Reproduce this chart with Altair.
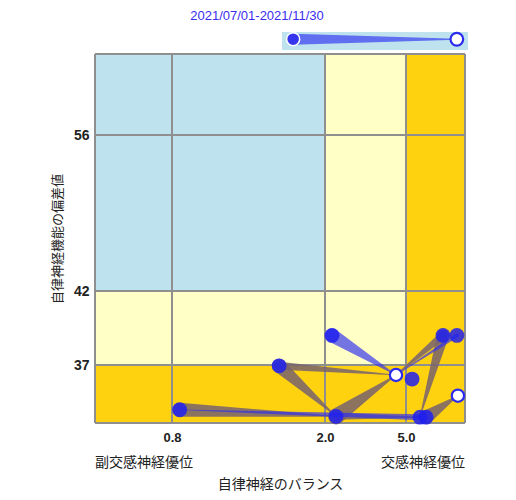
import altair as alt
import pandas as pd

# ---- data ----
title_text = "2021/07/01-2021/11/30"
x_ticks = [0.8, 2.0, 5.0]
y_ticks = [37, 42, 56]
X_MIN, X_MAX = 0.0, 8.0
Y_MIN, Y_MAX = 30.0, 62.0

pt_x = [0.86, 1.64, 2.41, 2.26, 4.63, 5.31, 6.88, 7.59, 5.71, 6.02, 7.64]
pt_y = [31.6, 36.9, 30.8, 39.0, 35.8, 35.3, 39.0, 39.0, 30.7, 30.7, 33.3]
pt_open = [False, False, False, False, True, False, False, False, False, False, True]

# segments: (from, to, weight, kind)
seg_from = [0, 1, 1, 2, 6, 6, 9, 2, 3, 8, 7]
seg_to = [2, 2, 4, 4, 4, 8, 10, 9, 4, 0, 4]
seg_w = [14, 14, 8, 16, 8, 12, 14, 7, 14, 6, 4]
seg_kind = ["brown", "brown", "brown", "brown", "brown", "brown", "brown", "brown",
            "blue", "blue", "blue"]

left_label = "副交感神経優位"
right_label = "交感神経優位"
x_title = "自律神経のバランス"
y_title = "自律神経機能の偏差値"

# ---- frames ----
W, H = 370, 369
xs = alt.Scale(domain=[X_MIN, 0.8, 2.0, 5.0, X_MAX], range=[0, 77, 230, 311, W],
               nice=False, zero=False)
ys = alt.Scale(domain=[Y_MIN, 37, 42, 56, Y_MAX], range=[H, 311, 237, 81, 0],
               nice=False, zero=False)

LBLUE, LYELLOW, GOLD = "#bee3ee", "#ffffc6", "#ffd20f"
bg = pd.DataFrame([
    dict(x=X_MIN, x2=2.0, y=42, y2=Y_MAX, c=LBLUE),
    dict(x=2.0, x2=5.0, y=42, y2=Y_MAX, c=LYELLOW),
    dict(x=X_MIN, x2=5.0, y=37, y2=42, c=LYELLOW),
    dict(x=5.0, x2=X_MAX, y=Y_MIN, y2=Y_MAX, c=GOLD),
    dict(x=X_MIN, x2=5.0, y=Y_MIN, y2=37, c=GOLD),
])

points = pd.DataFrame({"x": pt_x, "y": pt_y, "open": pt_open})

rows = []
for i, (a, b, w, k) in enumerate(zip(seg_from, seg_to, seg_w, seg_kind)):
    rows.append(dict(seg=i, step=0, x=pt_x[a], y=pt_y[a], w=w, kind=k))
    rows.append(dict(seg=i, step=1, x=pt_x[b], y=pt_y[b], w=0.6, kind=k))
trails = pd.DataFrame(rows)

xaxis = alt.Axis(values=x_ticks, format=".1f", ticks=False, domain=False, grid=False,
                 labelFontSize=13, labelFontWeight="bold", labelColor="#222",
                 labelFont="Liberation Sans",
                 labelPadding=8, title=x_title, titleFontSize=14,
                 titleFont="Noto Sans CJK JP", titleFontWeight="normal",
                 titleColor="#222", titlePadding=33)
yaxis = alt.Axis(values=y_ticks, ticks=False, domain=False, grid=False,
                 labelFontSize=14, labelFontWeight="bold", labelColor="#222",
                 labelFont="Liberation Sans",
                 labelPadding=6, title=y_title, titleFontSize=13,
                 titleFont="Noto Sans CJK JP", titleFontWeight="normal",
                 titleColor="#222", titlePadding=9)

base_bg = alt.Chart(bg).mark_rect().encode(
    x=alt.X("x:Q", scale=xs, axis=xaxis),
    x2="x2",
    y=alt.Y("y:Q", scale=ys, axis=yaxis),
    y2="y2",
    color=alt.Color("c:N", scale=None),
)

GRID = "#8f8f8f"
vl = alt.Chart(pd.DataFrame({"v": [X_MIN] + x_ticks + [X_MAX]})).mark_rule(
    color=GRID, strokeWidth=2).encode(x=alt.X("v:Q", scale=xs))
hl = alt.Chart(pd.DataFrame({"v": [Y_MIN] + y_ticks + [Y_MAX]})).mark_rule(
    color=GRID, strokeWidth=2).encode(y=alt.Y("v:Q", scale=ys))

def trail_layer(kind, color, opacity):
    return alt.Chart(trails[trails.kind == kind]).mark_trail(
        color=color, opacity=opacity).encode(
        x=alt.X("x:Q", scale=xs),
        y=alt.Y("y:Q", scale=ys),
        size=alt.Size("w:Q", scale=None),
        detail="seg:N",
        order="step:Q",
    )

brown = trail_layer("brown", "#77636f", 0.85)
blue = trail_layer("blue", "#3030ee", 0.68)

filled = alt.Chart(points[~points.open]).mark_circle(
    size=220, color="#2020ee", opacity=0.85).encode(
    x=alt.X("x:Q", scale=xs), y=alt.Y("y:Q", scale=ys))
opened = alt.Chart(points[points.open]).mark_point(
    size=150, shape="circle", filled=True, fill="white", stroke="#2b2bee",
    strokeWidth=2.2, opacity=1).encode(
    x=alt.X("x:Q", scale=xs), y=alt.Y("y:Q", scale=ys))

side = alt.Chart(pd.DataFrame({"t": [left_label]})).mark_text(
    align="left", baseline="middle", fontSize=14, font="Noto Sans CJK JP",
    color="#222").encode(text="t:N", x=alt.value(0), y=alt.value(H + 40))
side2 = alt.Chart(pd.DataFrame({"t": [right_label]})).mark_text(
    align="right", baseline="middle", fontSize=14, font="Noto Sans CJK JP",
    color="#222").encode(text="t:N", x=alt.value(W), y=alt.value(H + 40))
ttl = alt.Chart(pd.DataFrame({"t": [title_text]})).mark_text(
    align="center", baseline="middle", fontSize=13, font="Liberation Sans",
    color="#3b2df0").encode(text="t:N", x=alt.value(162), y=alt.value(-38))

main = alt.layer(base_bg, vl, hl, brown, blue, filled, opened, side, side2, ttl)

# ---- legend strip above the plot (start -> end) ----
lxs = alt.Scale(domain=[0, 1], range=[187, 373], nice=False, zero=False)
lys = alt.Scale(domain=[0, 1], range=[-4, -22], nice=False, zero=False)
lrect = alt.Chart(pd.DataFrame({"x": [0], "x2": [1], "y": [0], "y2": [1]})).mark_rect(
    color=LBLUE).encode(x=alt.X("x:Q", scale=lxs, axis=None), x2="x2",
                        y=alt.Y("y:Q", scale=lys, axis=None), y2="y2")
ltrail = alt.Chart(pd.DataFrame({"x": [0.06, 0.94], "y": [0.6, 0.6], "w": [11, 1],
                                 "s": [0, 1]})).mark_trail(color="#5f6ff0").encode(
    x=alt.X("x:Q", scale=lxs, axis=None), y=alt.Y("y:Q", scale=lys, axis=None),
    size=alt.Size("w:Q", scale=None), order="s:Q")
ldot1 = alt.Chart(pd.DataFrame({"x": [0.06], "y": [0.6]})).mark_point(
    shape="circle", filled=True, size=170, fill="#3535ee", stroke="white",
    strokeWidth=1.5, opacity=1).encode(
    x=alt.X("x:Q", scale=lxs, axis=None), y=alt.Y("y:Q", scale=lys, axis=None))
ldot2 = alt.Chart(pd.DataFrame({"x": [0.94], "y": [0.6]})).mark_point(
    shape="circle", filled=True, size=160, fill="white", stroke="#2b2bee",
    strokeWidth=2.2, opacity=1).encode(
    x=alt.X("x:Q", scale=lxs, axis=None), y=alt.Y("y:Q", scale=lys, axis=None))
legend = alt.layer(lrect, ltrail, ldot1, ldot2)

chart = alt.layer(main, legend).resolve_scale(
    x="independent", y="independent"
).properties(
    width=W, height=H,
    autosize=alt.AutoSizeParams(type="none"),
    padding={"left": 87, "top": 46, "right": 30, "bottom": 75},
).configure_view(stroke=None)

chart.save("out.html", embed_options={"renderer": "svg", "actions": False})
